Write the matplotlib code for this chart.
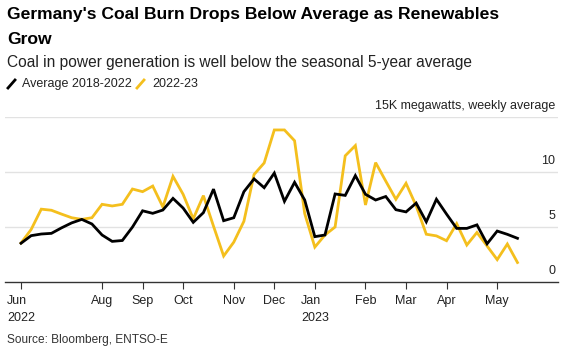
import matplotlib
matplotlib.use("Agg")
import matplotlib.pyplot as plt
from matplotlib.lines import Line2D

plt.rcParams["font.family"] = ["Liberation Sans", "DejaVu Sans"]

BLACK = "#000000"
YELLOW = "#f4bf1d"
GRID = "#e2e2e2"
TEXT = "#222222"

# weekly index, first point = first week of June 2022
weeks = list(range(50))
avg_2018_2022 = [3.55, 4.24, 4.39, 4.45, 4.95, 5.4, 5.72, 5.3, 4.3, 3.72,
                 3.8, 5.02, 6.5, 6.27, 6.57, 7.63, 6.75, 5.45, 6.33, 8.47,
                 5.6, 5.87, 8.24, 9.4, 8.6, 9.93, 7.36, 9.09, 7.48, 4.15,
                 4.3, 8.03, 7.9, 9.7, 8.0, 7.48, 7.8, 6.6, 6.4, 7.2,
                 5.5, 7.55, 6.2, 4.9, 4.9, 5.22, 3.5, 4.66, 4.36, 4.0]
y2022_23 = [3.57, 4.8, 6.65, 6.55, 6.2, 5.87, 5.72, 5.87, 7.09, 6.94,
            7.09, 8.48, 8.24, 8.75, 6.85, 9.63, 8.0, 5.77, 7.88, 5.1,
            2.39, 3.65, 5.55, 9.8, 10.85, 13.85, 13.85, 12.87, 6.25, 3.2,
            4.3, 5.03, 11.5, 12.43, 7.03, 10.88, 9.2, 7.55, 9.0, 6.95,
            4.37, 4.22, 3.78, 5.33, 3.39, 4.53, 3.3, 2.06, 3.48, 1.8]

tick_weeks = [0, 8, 12, 16, 21, 25, 29, 34, 38, 42, 47]
tick_labels = ["Jun\n2022", "Aug", "Sep", "Oct", "Nov", "Dec", "Jan\n2023",
               "Feb", "Mar", "Apr", "May"]
y_ticks = [0, 5, 10]

W, H = 566, 352
fig = plt.figure(figsize=(W / 100, H / 100), dpi=100)
ax = fig.add_axes([5 / W, 1 - 282.3 / H, 553 / W, 165 / H])

ax.plot(weeks, y2022_23, color=YELLOW, lw=2.0, solid_joinstyle="miter")
ax.plot(weeks, avg_2018_2022, color=BLACK, lw=2.0, solid_joinstyle="miter")

ax.set_xlim(-1.58, 53.0)
ax.set_ylim(0, 15)
for v in [5, 10, 15]:
    ax.axhline(v, color=GRID, lw=1.0, zorder=0)

for s in ["top", "right", "left"]:
    ax.spines[s].set_visible(False)
ax.spines["bottom"].set_color("#333333")
ax.spines["bottom"].set_linewidth(1.0)

ax.set_xticks(tick_weeks)
ax.set_xticklabels(tick_labels, fontsize=9, color=TEXT, linespacing=1.55)
ax.tick_params(axis="x", direction="out", length=5, width=0.8,
               color="#333333", pad=4)
for lab in ax.get_xticklabels():
    lab.set_multialignment("left")
ax.set_yticks([])

# y labels sit just above their gridlines, flush right
for v in y_ticks:
    ax.text(0.995, v + 0.45, str(v), transform=ax.get_yaxis_transform(),
            ha="right", va="bottom", fontsize=9, color=TEXT)
ax.text(0.995, 15.45, "15K megawatts, weekly average",
        transform=ax.get_yaxis_transform(), ha="right", va="bottom",
        fontsize=9, color=TEXT)

# header
fig.text(7 / W, 1 - 15 / H, "Germany's Coal Burn Drops Below Average as Renewables",
         fontsize=12.6, weight="bold", ha="left", va="center", color="#000000")
fig.text(7 / W, 1 - 40 / H, "Grow", fontsize=12.6, weight="bold",
         ha="left", va="center", color="#000000")
fig.text(7 / W, 1 - 62 / H,
         "Coal in power generation is well below the seasonal 5-year average",
         fontsize=11.2, ha="left", va="center", color=TEXT)

# legend with slash markers
for x0, col in [(8, BLACK), (137, YELLOW)]:
    fig.add_artist(Line2D([x0 / W, (x0 + 7) / W], [1 - 88 / H, 1 - 80 / H],
                          color=col, lw=2.0, transform=fig.transFigure))
fig.text(22 / W, 1 - 84 / H, "Average 2018-2022", fontsize=9,
         ha="left", va="center", color=TEXT)
fig.text(152 / W, 1 - 84 / H, "2022-23", fontsize=9,
         ha="left", va="center", color=TEXT)

fig.text(7 / W, 1 - 340 / H, "Source: Bloomberg, ENTSO-E", fontsize=8.6,
         ha="left", va="center", color="#333333")

fig.savefig("out.png", dpi=100, facecolor="white")
